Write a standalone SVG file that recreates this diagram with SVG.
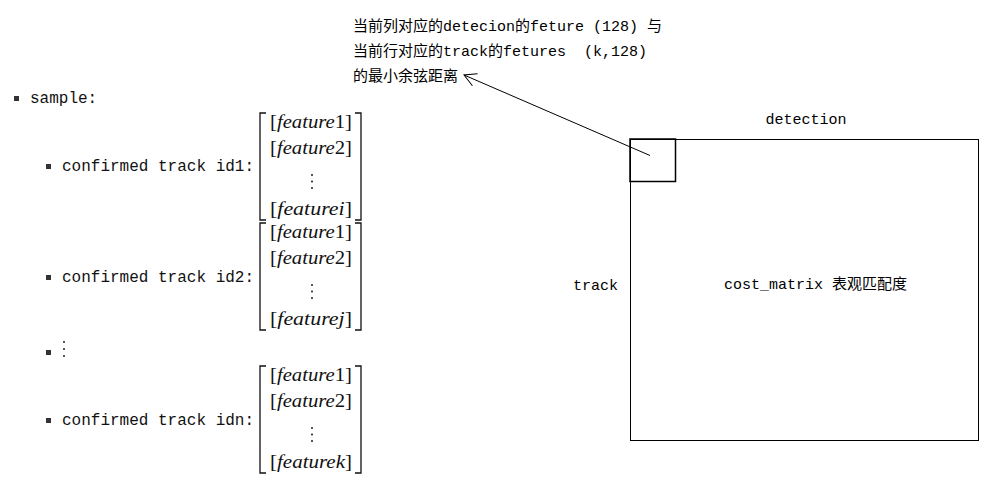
<svg xmlns="http://www.w3.org/2000/svg" width="1007" height="489" viewBox="0 0 1007 489">
<style>
.mono{font-family:"Liberation Mono","Noto Sans CJK SC",monospace;font-size:15px;fill:#000;white-space:pre}
.lab{font-family:"Liberation Mono",monospace;font-size:16px;fill:#111}
.feat{font-family:"Liberation Serif",serif;font-size:18px;font-style:italic;fill:#111}
.up{font-style:normal}
.br{fill:none;stroke:#111;stroke-width:1.3}
.bul{fill:#333}
.dot{fill:#222}
</style>
<defs>
<marker id="vee" markerWidth="14" markerHeight="14" refX="13" refY="7" orient="auto" markerUnits="userSpaceOnUse">
<path d="M1,0.5 L13,7 L1,13.5" fill="none" stroke="#000" stroke-width="1"/>
</marker>
<g id="mat">
<path class="br" d="M266,0 H260 V107 H266 M355,0 H361 V107 H355"/>
<text class="feat" x="270" y="15" textLength="82" lengthAdjust="spacingAndGlyphs"><tspan class="up">[</tspan>feature<tspan class="up">1]</tspan></text>
<text class="feat" x="270" y="41" textLength="82" lengthAdjust="spacingAndGlyphs"><tspan class="up">[</tspan>feature<tspan class="up">2]</tspan></text>
<circle class="dot" cx="312" cy="62" r="1"/>
<circle class="dot" cx="312" cy="68.5" r="1"/>
<circle class="dot" cx="312" cy="75" r="1"/>
</g>
</defs>

<g id="note">
<text class="mono" x="353" y="31" xml:space="preserve">当前列对应的detecion的feture (128) 与</text>
<text class="mono" x="353" y="56" xml:space="preserve">当前行对应的track的fetures  (k,128)</text>
<text class="mono" x="353" y="81">的最小余弦距离</text>
</g>

<g id="sample">
<rect class="bul" x="14" y="96" width="5" height="5"/>
<text class="lab" x="30" y="103">sample:</text>
</g>

<g id="track1">
<rect class="bul" x="46" y="164" width="5" height="5"/>
<text class="lab" x="62" y="171">confirmed track id1:</text>
<use href="#mat" y="113"/>
<text class="feat" x="270" y="215" textLength="82" lengthAdjust="spacingAndGlyphs"><tspan class="up">[</tspan>featurei<tspan class="up">]</tspan></text>
</g>

<g id="track2">
<rect class="bul" x="46" y="275" width="5" height="5"/>
<text class="lab" x="62" y="282">confirmed track id2:</text>
<use href="#mat" y="223"/>
<text class="feat" x="270" y="325" textLength="82" lengthAdjust="spacingAndGlyphs"><tspan class="up">[</tspan>featurej<tspan class="up">]</tspan></text>
</g>

<g id="ellipsis">
<rect class="bul" x="46" y="350" width="5" height="5"/>
<circle class="dot" cx="64" cy="342" r="1"/>
<circle class="dot" cx="64" cy="349" r="1"/>
<circle class="dot" cx="64" cy="356" r="1"/>
</g>

<g id="trackn">
<rect class="bul" x="46" y="418" width="5" height="5"/>
<text class="lab" x="62" y="425">confirmed track idn:</text>
<use href="#mat" y="366"/>
<text class="feat" x="270" y="468" textLength="82" lengthAdjust="spacingAndGlyphs"><tspan class="up">[</tspan>featurek<tspan class="up">]</tspan></text>
</g>

<g id="matrix">
<rect x="630.5" y="139.5" width="348" height="301" fill="none" stroke="#000" stroke-width="1"/>
<text class="mono" x="806" y="124" text-anchor="middle">detection</text>
<text class="mono" x="573" y="290">track</text>
<text class="mono" x="724" y="289">cost_matrix 表观匹配度</text>
</g>

<g id="cell">
<rect x="630" y="139" width="45.5" height="42.5" fill="none" stroke="#000" stroke-width="1.5"/>
</g>

<g id="connectors">
<line x1="650" y1="155.5" x2="464" y2="75" stroke="#000" stroke-width="1" marker-end="url(#vee)"/>
</g>
</svg>
